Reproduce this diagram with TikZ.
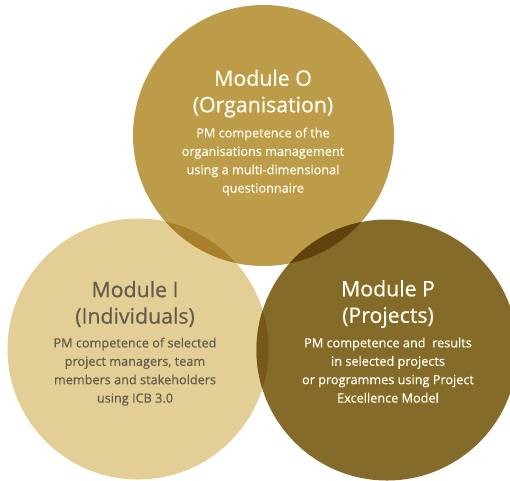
\documentclass[tikz,border=0pt]{standalone}
\usepackage{fontspec}
\setmainfont{Open Sans}
\newfontfamily\medfont[FakeBold=0.6]{Open Sans}
\definecolor{cO}{RGB}{188,156,72}
\definecolor{cI}{RGB}{227,207,149}
\definecolor{cP}{RGB}{133,107,42}
\definecolor{cOI}{RGB}{168,128,43}
\definecolor{cOP}{RGB}{98,66,12}
\definecolor{cIP}{RGB}{118,88,25}
\definecolor{txtI}{RGB}{98,92,78}
\definecolor{txtL}{RGB}{255,252,240}
\tikzset{
  disc/.style={circle, minimum size=261pt, inner sep=0pt, draw=none},
  title/.style={align=center, font=\medfont\fontsize{21.3}{26.5}\selectfont, inner sep=0pt},
  body/.style={align=center, font=\medfont\fontsize{12.7}{18.4}\selectfont, inner sep=0pt},
}
\begin{document}
\begin{tikzpicture}[x=1pt,y=-1pt]
\clip (0,0) rectangle (510,480);
\useasboundingbox (0,0) rectangle (510,480);
\node[disc, fill=cO] (circO) at (263.5,135.5) {};
\node[disc, fill=cI] (circI) at (138,349) {};
\node[disc, fill=cP] (circP) at (387,350) {};
\begin{scope}
  \clip (circO.center) circle (130.5);
  \fill[cOI] (circI.center) circle (130.5);
  \fill[cOP] (circP.center) circle (130.5);
\end{scope}
\begin{scope}
  \clip (circI.center) circle (130.5);
  \fill[cIP] (circP.center) circle (130.5);
\end{scope}
% Module O
\node[title, text=txtL] (tO) at (263,93.5) {Module O\\(Organisation)};
\node[body, text=txtL, anchor=north] (bO) at (263,127.5) {PM competence of the\\organisations management\\using a multi-dimensional\\questionnaire};
% Module I
\node[title, text=txtI] (tI) at (135,304) {Module I\\(Individuals)};
\node[body, text=txtI, anchor=north] (bI) at (135,337.5) {PM competence of selected\\project managers, team\\members and stakeholders\\using ICB 3.0};
% Module P
\node[title, text=txtL] (tP) at (388,304) {Module P\\(Projects)};
\node[body, text=txtL, anchor=north] (bP) at (388,337.5) {PM competence and\ \ results\\in selected projects\\or programmes using Project\\Excellence Model};
\end{tikzpicture}
\end{document}
